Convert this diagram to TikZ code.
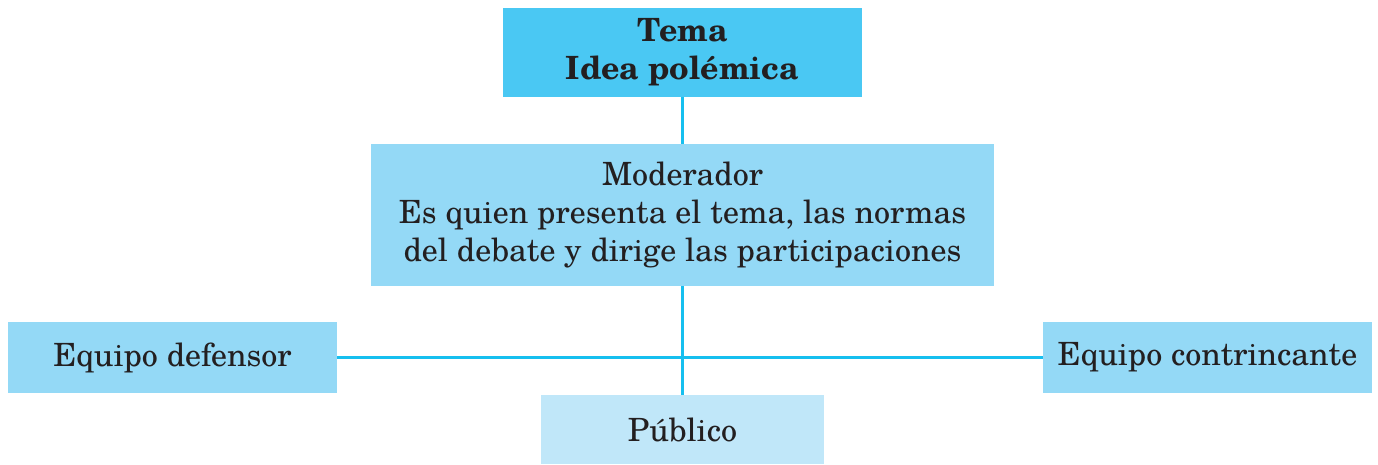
\documentclass[tikz,border=0pt]{standalone}
\usepackage{fontspec}
\setmainfont{TeX Gyre Schola}
\usepackage{xcolor}
\definecolor{temacol}{HTML}{4AC8F3}
\definecolor{modcol}{HTML}{94D9F6}
\definecolor{pubcol}{HTML}{C0E7F9}
\definecolor{linecol}{HTML}{16BFEF}
\definecolor{txtcol}{HTML}{231F20}
\begin{document}
\begin{tikzpicture}[x=0.5pt,y=-0.5pt,
  boxbase/.style={inner sep=0pt, align=center, text=txtcol,
    font=\fontsize{16}{19}\selectfont},
  conn/.style={draw=linecol, line width=1.3pt}]
\useasboundingbox (0,0) rectangle (1378,465);
\node[boxbase, fill=temacol, minimum width=179.5pt, minimum height=44.5pt,
  font=\fontsize{16}{19}\selectfont\bfseries] (tema) at (682.5,52.5) {Tema\\Idea polémica};
\node[boxbase, fill=modcol, minimum width=311.5pt, minimum height=71pt] (mod) at (682.5,215)
  {Moderador\\Es quien presenta el tema, las normas\\del debate y dirige las participaciones};
\node[boxbase, fill=modcol, minimum width=164.5pt, minimum height=35.5pt] (def) at (172.5,357.5) {Equipo defensor};
\node[boxbase, fill=modcol, minimum width=164.5pt, minimum height=35.5pt] (con) at (1207.5,357.5) {Equipo contrincante};
\node[boxbase, fill=pubcol, minimum width=141.5pt, minimum height=34.5pt] (pub) at (682.5,429.5) {Público};
\draw[conn] (tema.south) -- (mod.north);
\draw[conn] (mod.south) -- (pub.north);
\draw[conn] (def.east) -- (con.west);
\end{tikzpicture}
\end{document}
